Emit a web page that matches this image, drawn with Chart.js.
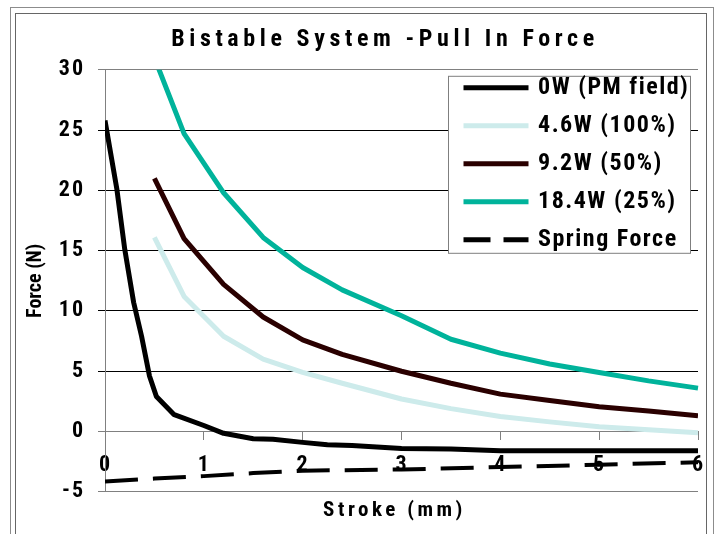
<!DOCTYPE html>
<html>
<head>
<meta charset="utf-8">
<script src="https://cdn.jsdelivr.net/npm/chart.js@4.4.0/dist/chart.umd.min.js"></script>
<style>
  html, body { margin: 0; padding: 0; background: #fff; }
  #wrap { position: relative; width: 723px; height: 534px; overflow: hidden; }
  .frame { position: absolute; border: 1px solid #8c8c8c; }
  #outer { left: 10px; top: 7px; width: 702px; height: 600px; }
  #inner { left: 15px; top: 13px; width: 690px; height: 600px; border-color: #666; }
  canvas { position: absolute; left: 0; top: 0; }
</style>
</head>
<body>
<div id="wrap">
  <div class="frame" id="outer"></div>
  <div class="frame" id="inner"></div>
  <canvas id="forceChart" width="723" height="534"></canvas>
</div>
<script>
// values: stroke in mm, force in N
const strokePM = [0, 0.12, 0.2, 0.29, 0.37, 0.45, 0.52, 0.7, 1.0, 1.2, 1.5, 1.7, 2.0, 2.25, 2.5, 3.0, 3.5, 4.0, 5.0, 6.0];
const forcePM = [25.8, 20.1, 15.1, 10.7, 7.9, 4.6, 2.9, 1.4, 0.5, -0.15, -0.6, -0.65, -0.9, -1.1, -1.15, -1.4, -1.45, -1.6, -1.6, -1.6];

const strokeCoil = [0.5, 0.8, 1.2, 1.6, 2.0, 2.4, 3.0, 3.5, 4.0, 4.5, 5.0, 5.5, 6.0];
const force46W = [16.1, 11.2, 7.9, 6.0, 4.9, 4.0, 2.7, 1.9, 1.25, 0.8, 0.4, 0.15, -0.1];
const force92W = [21.0, 16.0, 12.2, 9.5, 7.6, 6.4, 5.0, 4.0, 3.1, 2.57, 2.05, 1.7, 1.3];
const force184W = [31, 24.7, 19.8, 16.1, 13.6, 11.75, 9.6, 7.65, 6.5, 5.6, 4.9, 4.2, 3.6];

const strokeSpring = [0, 0.5, 1, 1.5, 2, 3, 4, 5, 6];
const forceSpring = [-4.15, -3.9, -3.7, -3.45, -3.25, -3.15, -2.95, -2.75, -2.55];

const seriesLabels = ['0W (PM field)', '4.6W (100%)', '9.2W (50%)', '18.4W (25%)', 'Spring Force'];
const xTicks = [0, 1, 2, 3, 4, 5, 6];
const yTicks = [-5, 0, 5, 10, 15, 20, 25, 30];

const FONT = "'Roboto Condensed', 'Open Sans Condensed', 'DejaVu Sans Condensed', sans-serif";
const pts = (xs, ys) => xs.map((x, i) => ({ x: x, y: ys[i] }));

// canvas letter spacing per text block (Chart.js has no option for it)
const spacedText = {
    id: 'spacedText',
    beforeDraw(chart) {
        if (chart._spaced) return;
        chart._spaced = true;
        const ctx = chart.ctx;
        const wrap = (obj, fn, px, before) => {
            const orig = obj[fn];
            obj[fn] = function (a) {
                ctx.save();
                if (before) before();
                ctx.letterSpacing = px + 'px';
                orig.call(this, a);
                ctx.restore();
            };
        };
        wrap(chart.titleBlock, 'draw', 4.6, () => ctx.translate(26, 0));
        wrap(chart.scales.y, 'drawLabels', 2);
        wrap(chart.scales.x, 'drawLabels', 1);
        wrap(chart.scales.strokeTitle, 'drawTitle', 3.5, () => ctx.translate(-7, 0));
        wrap(chart.legend, 'draw', 1.5, () => {
            const ca = chart.chartArea;
            ctx.fillStyle = '#fff';
            ctx.strokeStyle = '#7f7f7f';
            ctx.lineWidth = 1;
            ctx.fillRect(ca.right - 250, ca.top + 6, 243, 178);
            ctx.strokeRect(ca.right - 249.5, ca.top + 6.5, 242, 177);
        });
    },
    afterLayout(chart) {
        const lg = chart.legend, ca = chart.chartArea;
        lg.left = ca.right - 246;
        lg.top = ca.top - 8;
        lg.width = 260;
        lg.height = 230;
        lg.right = lg.left + lg.width;
        lg.bottom = lg.top + lg.height;
    }
};

const ctx = document.getElementById('forceChart').getContext('2d');
new Chart(ctx, {
    type: 'line',
    data: {
        datasets: [
            { label: seriesLabels[0], data: pts(strokePM, forcePM), borderColor: '#000000', borderWidth: 5 },
            { label: seriesLabels[1], data: pts(strokeCoil, force46W), borderColor: '#cdebeb', borderWidth: 5 },
            { label: seriesLabels[2], data: pts(strokeCoil, force92W), borderColor: '#2a0000', borderWidth: 5 },
            { label: seriesLabels[3], data: pts(strokeCoil, force184W), borderColor: '#00b39b', borderWidth: 5,
              clip: { left: 3, top: 0, right: 3, bottom: 3 } },
            { label: seriesLabels[4], data: pts(strokeSpring, forceSpring), borderColor: '#000000', borderWidth: 4,
              borderDash: [33, 15] }
        ].map(ds => Object.assign({
            xAxisID: 'x', yAxisID: 'y', pointRadius: 0, pointHoverRadius: 0, tension: 0,
            fill: false, borderJoinStyle: 'round', backgroundColor: ds.borderColor
        }, ds))
    },
    options: {
        responsive: false,
        animation: false,
        events: [],
        layout: { padding: { left: 20, right: 25, top: 14, bottom: 6 } },
        scales: {
            x: {
                type: 'linear',
                position: { y: 0 },
                min: xTicks[0],
                max: xTicks[xTicks.length - 1],
                z: -1,
                ticks: { stepSize: 1, padding: 13, color: '#000', font: { family: FONT, size: 22, weight: 'bold' } },
                grid: { drawOnChartArea: false, drawTicks: true, tickLength: 8, color: '#808080' },
                border: { display: true, color: '#808080' },
                afterFit: s => { s.paddingLeft = 0; s.paddingRight = 0; }
            },
            strokeTitle: {
                type: 'linear',
                axis: 'x',
                position: 'bottom',
                min: xTicks[0],
                max: xTicks[xTicks.length - 1],
                ticks: { display: false },
                grid: { display: false, drawTicks: false },
                border: { display: false },
                title: { display: true, text: 'Stroke (mm)', color: '#000', padding: { top: 6, bottom: 5 },
                         font: { family: FONT, size: 21, weight: 'bold' } }
            },
            y: {
                type: 'linear',
                min: yTicks[0],
                max: yTicks[yTicks.length - 1],
                z: -1,
                ticks: { stepSize: yTicks[1] - yTicks[0], padding: 13, color: '#000',
                         font: { family: FONT, size: 22, weight: 'bold' } },
                grid: {
                    tickLength: 7,
                    color: c => (c.tick && (c.tick.value === 30 || c.tick.value <= 0)) ? '#808080' : '#000000'
                },
                border: { display: true, color: '#808080' },
                title: { display: true, text: 'Force (N)', color: '#000', padding: { top: 4, bottom: 0 },
                         font: { family: FONT, size: 20, weight: 'bold' } },
                afterFit: s => { s.width = 85; s.paddingTop = 0; s.paddingBottom = 0; }
            }
        },
        plugins: {
            title: {
                display: true,
                text: 'Bistable System -Pull In Force',
                color: '#000',
                padding: { top: 12, bottom: 15 },
                font: { family: FONT, size: 24, weight: 'bold' }
            },
            legend: {
                position: 'chartArea',
                align: 'start',
                labels: {
                    usePointStyle: true,
                    pointStyleWidth: 60,
                    padding: 14,
                    color: '#000',
                    font: { family: FONT, size: 24, weight: 'bold' },
                    generateLabels: chart => chart.data.datasets.map((ds, i) => ({
                        text: ds.label,
                        datasetIndex: i,
                        pointStyle: 'line',
                        lineWidth: 5,
                        lineCap: 'square',
                        lineDash: ds.borderDash ? [22, 18] : [],
                        strokeStyle: ds.borderColor,
                        fillStyle: ds.borderColor,
                        fontColor: '#000',
                        hidden: false
                    }))
                }
            },
            tooltip: { enabled: false }
        }
    },
    plugins: [spacedText]
});
</script>
</body>
</html>
